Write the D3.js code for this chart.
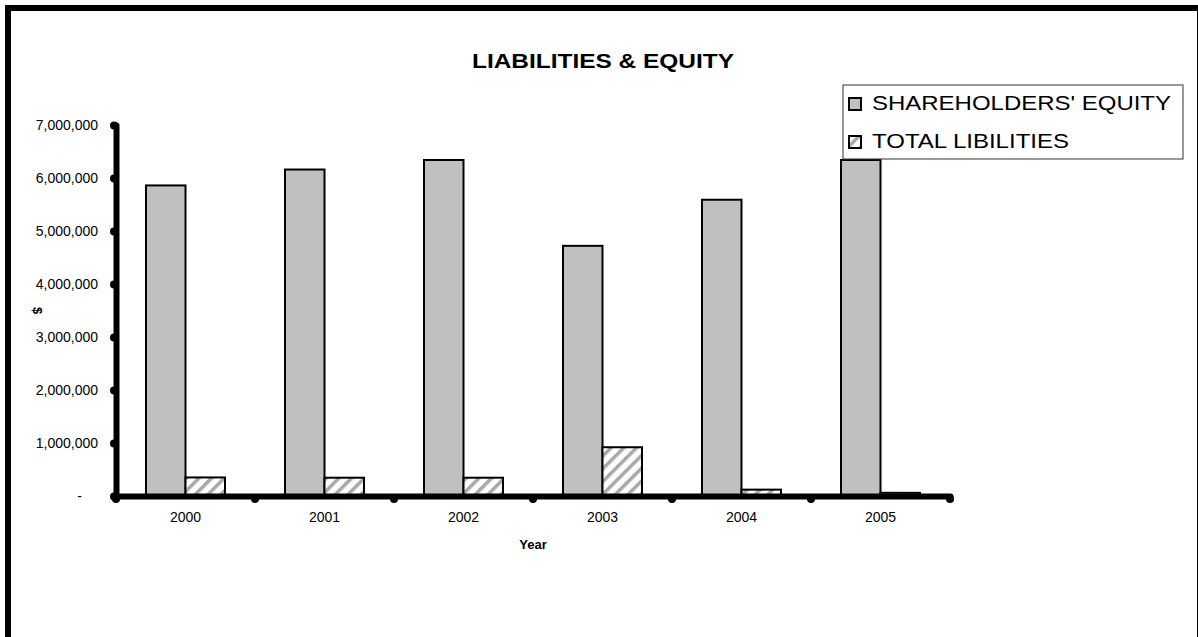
<!DOCTYPE html>
<html>
<head>
<meta charset="utf-8">
<script src="https://cdn.jsdelivr.net/npm/d3@7"></script>
<style>
  html, body { margin: 0; padding: 0; background: #fff; }
  svg { display: block; font-family: "Liberation Sans", Arial, sans-serif; }
</style>
</head>
<body>
<svg id="chart" width="1198" height="637"></svg>
<script>
// Balance sheet summary by year
const years = ["2000", "2001", "2002", "2003", "2004", "2005"];
const seriesNames = ["SHAREHOLDERS' EQUITY", "TOTAL LIBILITIES"];
const equity = [5860000, 6160000, 6340000, 4720000, 5590000, 6340000];
const liabilities = [350000, 345000, 345000, 920000, 120000, 60000];
const yTicks = [0, 1000000, 2000000, 3000000, 4000000, 5000000, 6000000, 7000000];

const svg = d3.select("#chart");

// hatch pattern for liabilities
const defs = svg.append("defs");
const pat = defs.append("pattern")
  .attr("id", "hatch")
  .attr("patternUnits", "userSpaceOnUse")
  .attr("width", 9).attr("height", 9)
  .attr("patternTransform", "rotate(45)");
pat.append("rect").attr("width", 9).attr("height", 9).attr("fill", "#fff");
pat.append("rect").attr("x", 0).attr("width", 3.5).attr("height", 9).attr("fill", "#a8a8a8");

// outer frame
svg.append("rect")
  .attr("x", 8).attr("y", 8)
  .attr("width", 1192).attr("height", 640)
  .attr("fill", "#fff").attr("stroke", "#000").attr("stroke-width", 6);

// plot geometry
const plotLeft = 116, plotRight = 950, plotTop = 125, plotBottom = 496;

const x = d3.scaleBand().domain(years).range([plotLeft, plotRight]).padding(0);
const xs = d3.scaleBand().domain(seriesNames).range([30, x.bandwidth() - 30]).padding(0);
const y = d3.scaleLinear().domain([0, 7000000]).range([plotBottom, plotTop]);

// title
svg.append("text")
  .attr("x", 603).attr("y", 68)
  .attr("text-anchor", "middle")
  .attr("font-weight", "bold").attr("font-size", 21)
  .attr("textLength", 262).attr("lengthAdjust", "spacingAndGlyphs")
  .text("LIABILITIES & EQUITY");

// bars
const fills = ["#c0c0c0", "url(#hatch)"];
const data = [equity, liabilities];
const groups = svg.append("g");
years.forEach((yr, i) => {
  seriesNames.forEach((s, j) => {
    const v = data[j][i];
    groups.append("rect")
      .attr("x", x(yr) + xs(s))
      .attr("y", y(v))
      .attr("width", xs.bandwidth())
      .attr("height", y(0) - y(v))
      .attr("fill", fills[j])
      .attr("stroke", "#000")
      .attr("stroke-width", 2);
  });
});

// y axis
const yAxis = d3.axisLeft(y).tickValues(yTicks).tickSize(0).tickPadding(18)
  .tickFormat(d => d === 0 ? "-" : d3.format(",")(d));
const gy = svg.append("g").attr("transform", `translate(${plotLeft},0)`).call(yAxis);
gy.select(".domain").attr("stroke", "#000").attr("stroke-width", 6).attr("stroke-linecap", "round");
gy.selectAll(".tick text").attr("font-size", 14).attr("fill", "#000")
  .attr("font-family", "Liberation Sans, Arial, sans-serif");
gy.selectAll(".tick text").filter(d => d === 0).attr("dx", -16);
gy.selectAll(".tick").append("circle").attr("cx", -2).attr("cy", 0).attr("r", 4).attr("fill", "#000");

// x axis
const xAxis = d3.axisBottom(x).tickSize(0).tickPadding(16);
const gx = svg.append("g").attr("transform", `translate(0,${plotBottom})`).call(xAxis);
gx.select(".domain").attr("stroke", "#000").attr("stroke-width", 6).attr("stroke-linecap", "round");
gx.selectAll(".tick text").attr("font-size", 14).attr("fill", "#000")
  .attr("font-family", "Liberation Sans, Arial, sans-serif");
// boundary markers between categories
const bounds = years.map(d => x(d)).concat([plotRight]);
gx.selectAll("circle.b").data(bounds).enter().append("circle")
  .attr("class", "b")
  .attr("cx", d => d).attr("cy", 3).attr("r", 4).attr("fill", "#000");

// axis titles
svg.append("text")
  .attr("x", (plotLeft + plotRight) / 2).attr("y", 549)
  .attr("text-anchor", "middle").attr("font-weight", "bold").attr("font-size", 13)
  .text("Year");
svg.append("text")
  .attr("transform", `translate(33,${(plotTop + plotBottom) / 2}) rotate(90)`)
  .attr("text-anchor", "middle").attr("font-weight", "bold").attr("font-size", 13)
  .text("$");

// legend
const lg = svg.append("g");
lg.append("rect").attr("x", 843).attr("y", 85).attr("width", 340).attr("height", 74)
  .attr("fill", "#fff").attr("stroke", "#333").attr("stroke-width", 1);
const legendText = [{ y: 110, len: 299 }, { y: 148, len: 197 }];
seriesNames.forEach((s, j) => {
  lg.append("rect")
    .attr("x", 849).attr("y", legendText[j].y - 12)
    .attr("width", 12).attr("height", 12)
    .attr("fill", fills[j]).attr("stroke", "#000").attr("stroke-width", 2);
  lg.append("text")
    .attr("x", 872).attr("y", legendText[j].y)
    .attr("font-size", 21)
    .attr("textLength", legendText[j].len).attr("lengthAdjust", "spacingAndGlyphs")
    .text(s);
});
</script>
</body>
</html>
